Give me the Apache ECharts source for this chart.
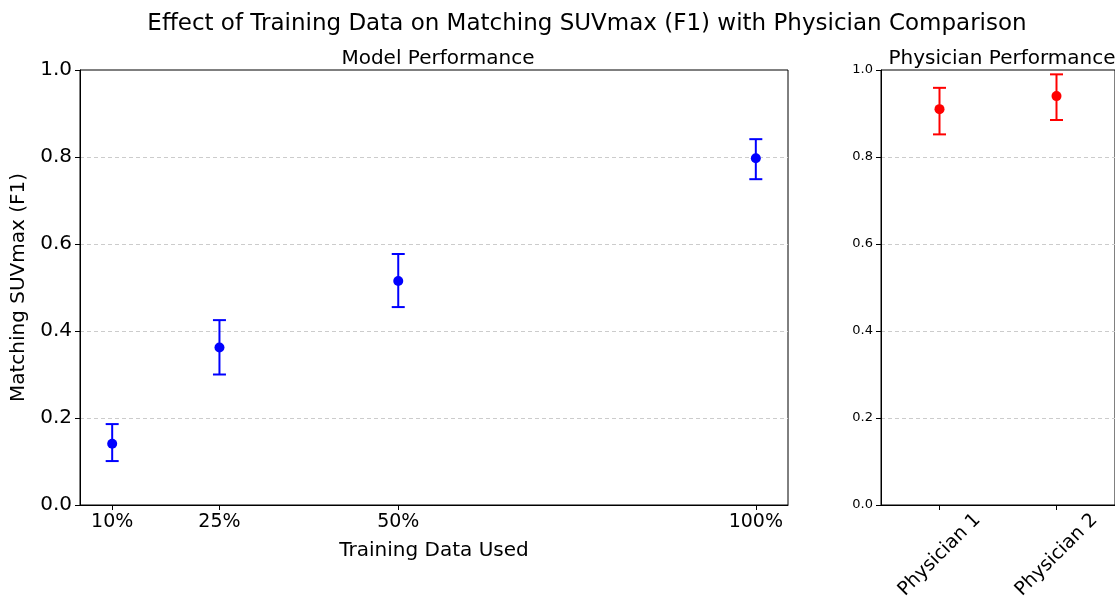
<!DOCTYPE html>
<html lang="en">
<head>
    <meta charset="UTF-8">
    <title>Training Data vs Physician</title>
    <script src="https://cdn.jsdelivr.net/npm/echarts@6/dist/echarts.min.js"></script>
    <style>
        body { margin: 0; background: #fff; }
    </style>
</head>
<body>
<div id="main" style="width: 1115px; height: 606px"></div>
<script type="text/javascript">
    // model results
    var trainPct = [10, 25, 50, 100];
    var modelMean = [0.141, 0.362, 0.515, 0.797];
    var modelLow = [0.101, 0.300, 0.455, 0.749];
    var modelHigh = [0.186, 0.425, 0.577, 0.841];

    // physician results
    var physicians = ['Physician 1', 'Physician 2'];
    var physMean = [0.910, 0.940];
    var physLow = [0.852, 0.885];
    var physHigh = [0.959, 0.990];

    var font = 'DejaVu Sans';

    var myChart = echarts.init(document.getElementById('main'));

    function errBar(color) {
        return function (params, api) {
            var x = api.value(0);
            var lo = api.coord([x, api.value(1)]);
            var hi = api.coord([x, api.value(2)]);
            var w = 6.5;
            var st = { stroke: color, lineWidth: 2 };
            return {
                type: 'group',
                children: [
                    { type: 'line', shape: { x1: lo[0], y1: lo[1], x2: hi[0], y2: hi[1] }, style: st },
                    { type: 'line', shape: { x1: lo[0] - w, y1: lo[1], x2: lo[0] + w, y2: lo[1] }, style: st },
                    { type: 'line', shape: { x1: hi[0] - w, y1: hi[1], x2: hi[0] + w, y2: hi[1] }, style: st }
                ]
            };
        };
    }

    var yCommon = {
        type: 'value',
        min: 0,
        max: 1,
        interval: 0.2,
        axisLine: { show: true, lineStyle: { color: '#000' } },
        axisTick: { show: true, length: 5, lineStyle: { color: '#000' } },
        splitLine: { show: true, showMaxLine: false, lineStyle: { color: '#ccc', type: [4, 3] } }
    };

    option = {
        animation: false,
        backgroundColor: '#fff',
        title: [
            {
                text: 'Effect of Training Data on Matching SUVmax (F1) with Physician Comparison',
                left: 582,
                top: 8,
                textAlign: 'center',
                textStyle: { fontFamily: font, fontSize: 23, fontWeight: 'normal', color: '#000' }
            },
            {
                text: 'Model Performance',
                left: 433,
                top: 44,
                textAlign: 'center',
                textStyle: { fontFamily: font, fontSize: 20, fontWeight: 'normal', color: '#000' }
            },
            {
                text: 'Physician Performance',
                left: 997,
                top: 44,
                textAlign: 'center',
                textStyle: { fontFamily: font, fontSize: 20, fontWeight: 'normal', color: '#000' }
            }
        ],
        grid: [
            { left: 80, top: 70, width: 708, height: 435, show: true, borderColor: '#000', borderWidth: 1 },
            { left: 881, top: 70, width: 236, height: 435, show: true, borderColor: '#000', borderWidth: 1 }
        ],
        xAxis: [
            {
                type: 'value',
                gridIndex: 0,
                min: 5.5,
                max: 104.5,
                name: 'Training Data Used',
                nameLocation: 'middle',
                nameGap: 36,
                nameTextStyle: { fontFamily: font, fontSize: 20, color: '#000' },
                axisLine: { lineStyle: { color: '#000' } },
                axisTick: { show: true, length: 5, customValues: trainPct, lineStyle: { color: '#000' } },
                axisLabel: {
                    customValues: trainPct,
                    fontFamily: font, fontSize: 19, color: '#000', margin: 8,
                    formatter: function (v) { return v + '%'; }
                },
                splitLine: { show: false }
            },
            {
                type: 'category',
                gridIndex: 1,
                data: physicians,
                boundaryGap: true,
                axisLine: { lineStyle: { color: '#000' } },
                axisTick: { show: true, alignWithLabel: true, length: 5, lineStyle: { color: '#000' } },
                axisLabel: {
                    rotate: 45,
                    align: 'center',
                    verticalAlign: 'middle',
                    margin: 50,
                    fontFamily: font, fontSize: 19, color: '#000'
                },
                splitLine: { show: false }
            }
        ],
        yAxis: [
            Object.assign({}, yCommon, {
                gridIndex: 0,
                name: 'Matching SUVmax (F1)',
                nameLocation: 'middle',
                nameGap: 50,
                nameTextStyle: { fontFamily: font, fontSize: 20, color: '#000' },
                axisLabel: {
                    fontFamily: font, fontSize: 20, color: '#000', margin: 8,
                    formatter: function (v) { return v.toFixed(1); }
                }
            }),
            Object.assign({}, yCommon, {
                gridIndex: 1,
                axisLabel: {
                    fontFamily: font, fontSize: 13, color: '#000', margin: 8,
                    formatter: function (v) { return v.toFixed(1); }
                }
            })
        ],
        series: [
            {
                type: 'custom',
                xAxisIndex: 0,
                yAxisIndex: 0,
                renderItem: errBar('#0000ff'),
                data: trainPct.map(function (p, i) { return [p, modelLow[i], modelHigh[i]]; }),
                z: 2
            },
            {
                type: 'scatter',
                xAxisIndex: 0,
                yAxisIndex: 0,
                symbolSize: 10,
                itemStyle: { color: '#0000ff', opacity: 1 },
                data: trainPct.map(function (p, i) { return [p, modelMean[i]]; }),
                z: 3
            },
            {
                type: 'custom',
                xAxisIndex: 1,
                yAxisIndex: 1,
                renderItem: errBar('#ff0000'),
                data: physicians.map(function (p, i) { return [i, physLow[i], physHigh[i]]; }),
                z: 2
            },
            {
                type: 'scatter',
                xAxisIndex: 1,
                yAxisIndex: 1,
                symbolSize: 10,
                itemStyle: { color: '#ff0000', opacity: 1 },
                data: physicians.map(function (p, i) { return [i, physMean[i]]; }),
                z: 3
            }
        ]
    };

    myChart.setOption(option);
</script>
</body>
</html>
